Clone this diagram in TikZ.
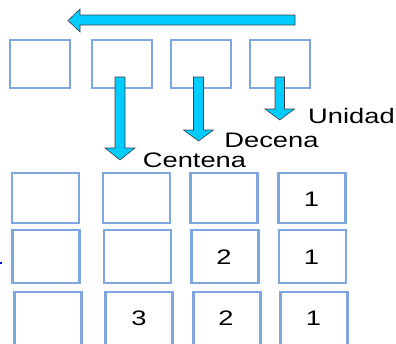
\documentclass[tikz,border=0pt]{standalone}
\usepackage{fontspec}
\setmainfont{Liberation Sans}
\definecolor{boxblue}{HTML}{7EA6E0}
\definecolor{arrcyan}{HTML}{00CCFF}
\tikzset{
  topbox/.style={draw=boxblue, line width=2pt, minimum width=60pt, minimum height=48pt, inner sep=0pt},
  gridbox/.style={draw=boxblue, line width=2.8pt, minimum width=67pt, inner sep=0pt},
  blockarrow/.style={fill=arrcyan, draw=black!75, line width=0.6pt, line join=miter},
  lbl/.style={inner sep=0pt, anchor=base, font=\fontsize{21}{21}\selectfont},
}
\newcommand{\stretched}[1]{\scalebox{1.3}[1]{#1}}
\begin{document}
\begin{tikzpicture}[x=1pt,y=-1pt]
\useasboundingbox (0,0) rectangle (396,343);
\clip (0,0) rectangle (396,343);
% top row boxes
\node[topbox] (t1) at (40,64) {};
\node[topbox] (t2) at (122,64) {};
\node[topbox] (t3) at (201,64) {};
\node[topbox] (t4) at (280,64) {};
% left arrow
\coordinate (la) at (295,20);
\draw[blockarrow] (295,15) -- (80,15) -- (80,9) -- (68,20.5) -- (80,32) -- (80,25) -- (295,25) -- cycle;
% down arrows
\draw[blockarrow] (115,77) -- (125,77) -- (125,148) -- (135,148) -- (120,160) -- (105,148) -- (115,148) -- cycle;
\draw[blockarrow] (193.5,77) -- (203.5,77) -- (203.5,130) -- (213.5,130) -- (198.5,141) -- (183.5,130) -- (193.5,130) -- cycle;
\draw[blockarrow] (275,77) -- (284.5,77) -- (284.5,109) -- (294.5,109) -- (279.8,120) -- (265,109) -- (275,109) -- cycle;
% labels
\node[lbl] (u) at (351.5,123) {\stretched{Unidad}};
\node[lbl] (d) at (271.5,147) {\stretched{Decena}};
\node[lbl] (c) at (194.5,167) {\stretched{Centena}};
% grid row 1
\node[gridbox, minimum height=50pt] (a1) at (45.5,198) {};
\node[gridbox, minimum height=50pt] (a2) at (136.5,198) {};
\node[gridbox, minimum height=50pt] (a3) at (224,198) {};
\node[gridbox, minimum height=50pt] (a4) at (312,198) {};
% grid row 2
\node[gridbox, minimum height=53pt] (b1) at (46,256.5) {};
\node[gridbox, minimum height=53pt] (b2) at (137.5,256.5) {};
\node[gridbox, minimum height=53pt] (b3) at (225,256.5) {};
\node[gridbox, minimum height=53pt] (b4) at (312.5,256.5) {};
% grid row 3
\node[gridbox, minimum height=60pt] (r1) at (48,322) {};
\node[gridbox, minimum height=60pt] (r2) at (139,322) {};
\node[gridbox, minimum height=60pt] (r3) at (227,322) {};
\node[gridbox, minimum height=60pt] (r4) at (314,322) {};
% digits
\node[lbl] (n14) at (311.5,206) {\stretched{1}};
\node[lbl] (n23) at (224,264) {\stretched{2}};
\node[lbl] (n24) at (311.5,264) {\stretched{1}};
\node[lbl] (n32) at (139,325.5) {\stretched{3}};
\node[lbl] (n33) at (226,325.5) {\stretched{2}};
\node[lbl] (n34) at (313.5,325.5) {\stretched{1}};
% stray blue dot
\fill[blue] (0,262) rectangle (2.2,264.2);
\end{tikzpicture}
\end{document}
